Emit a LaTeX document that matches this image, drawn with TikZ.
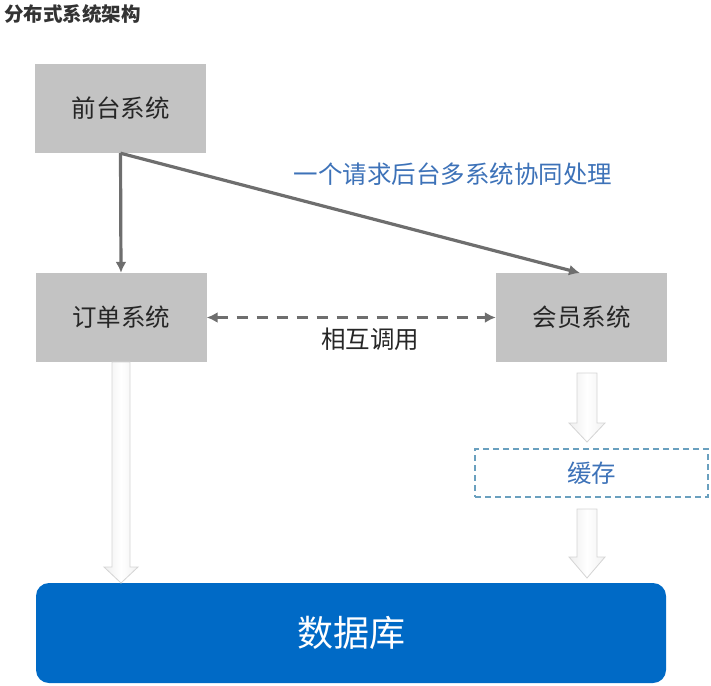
\documentclass[tikz,border=0pt]{standalone}
\usepackage{fontspec}
\setmainfont{Noto Sans CJK SC}
\usetikzlibrary{arrows.meta,calc}
\definecolor{boxgray}{HTML}{C3C3C3}
\definecolor{linegray}{HTML}{6E6E6E}
\definecolor{labelblue}{HTML}{3D72B8}
\definecolor{dbblue}{HTML}{006AC6}
\definecolor{cacheborder}{HTML}{6AA0BF}
\definecolor{hollowfill}{HTML}{F1F1F1}
\definecolor{hollowdraw}{HTML}{D4D4D4}
\definecolor{titlegray}{HTML}{333333}
\tikzset{
  sysbox/.style={fill=boxgray, draw=none, minimum width=171pt, minimum height=89pt, inner sep=0pt, font=\fontsize{24.5}{26}\selectfont, text=black!85},
  conn/.style={draw=linegray, line width=3.2pt, -{Latex[length=11pt,width=11pt]}},
  dashconn/.style={draw=linegray, line width=3.2pt, dash pattern=on 11pt off 9pt, {Latex[length=11pt,width=11pt]}-{Latex[length=11pt,width=11pt]}},
  hollow/.style={left color=hollowdraw!40, right color=hollowfill, middle color=white, draw=hollowdraw, line width=0.8pt, line join=miter},
  cachebox/.style={draw=cacheborder, dashed, dash pattern=on 6pt off 4pt, line width=1.2pt, minimum width=233pt, minimum height=48pt, inner sep=0pt, font=\fontsize{24.5}{26}\selectfont, text=labelblue},
  dbbox/.style={fill=dbblue, draw=none, rounded corners=13pt, minimum width=630pt, minimum height=100pt, inner sep=0pt, font=\fontsize{36}{40}\selectfont, text=white},
  lbl/.style={font=\fontsize{24.5}{26}\selectfont, inner sep=0pt}
}
\newcommand{\hollowarrow}[5]{%
  \path let \p1=(#1), \p2=(#2) in
    [hollow] (\x1-#3,\y1) -- (\x1+#3,\y1) -- (\x1+#3,\y2+#5) -- (\x1+#4,\y2+#5)
    -- (\x1,\y2) -- (\x1-#4,\y2+#5) -- (\x1-#3,\y2+#5) -- cycle;}
\begin{document}
\begin{tikzpicture}[x=1pt,y=-1pt]
\useasboundingbox (0,0) rectangle (711,685);
\node[anchor=west, font=\fontsize{19.5}{21}\selectfont\bfseries, text=titlegray, inner sep=0pt] (title) at (4,14) {分布式系统架构};
\node[sysbox] (qt) at (120.5,108.5) {前台系统};
\node[sysbox] (dd) at (121,317.5) {订单系统};
\node[sysbox] (hy) at (581.5,317.5) {会员系统};
\node[cachebox] (hc) at (591.5,473) {缓存};
\node[dbbox] (db) at (351,633) {数据库};
\draw[conn] (qt.south) -- (dd.north);
\coordinate (hyin) at (580,273);
\draw[conn] (qt.south) -- (hyin);
\node[lbl, text=labelblue] (lreq) at (453,174) {一个请求后台多系统协同处理};
\draw[dashconn] (dd.east) -- (hy.west);
\node[lbl, text=black!85] (lcall) at (370,339) {相互调用};
% hollow arrows
\coordinate (a1t) at (121,362);
\coordinate (a1b) at (121,583);
\hollowarrow{a1t}{a1b}{9pt}{17pt}{16pt}
\coordinate (a2t) at (587,373);
\coordinate (a2b) at (587,442);
\hollowarrow{a2t}{a2b}{10pt}{18pt}{19pt}
\coordinate (a3t) at (587,509);
\coordinate (a3b) at (587,578);
\hollowarrow{a3t}{a3b}{10pt}{18pt}{21pt}
\end{tikzpicture}
\end{document}
